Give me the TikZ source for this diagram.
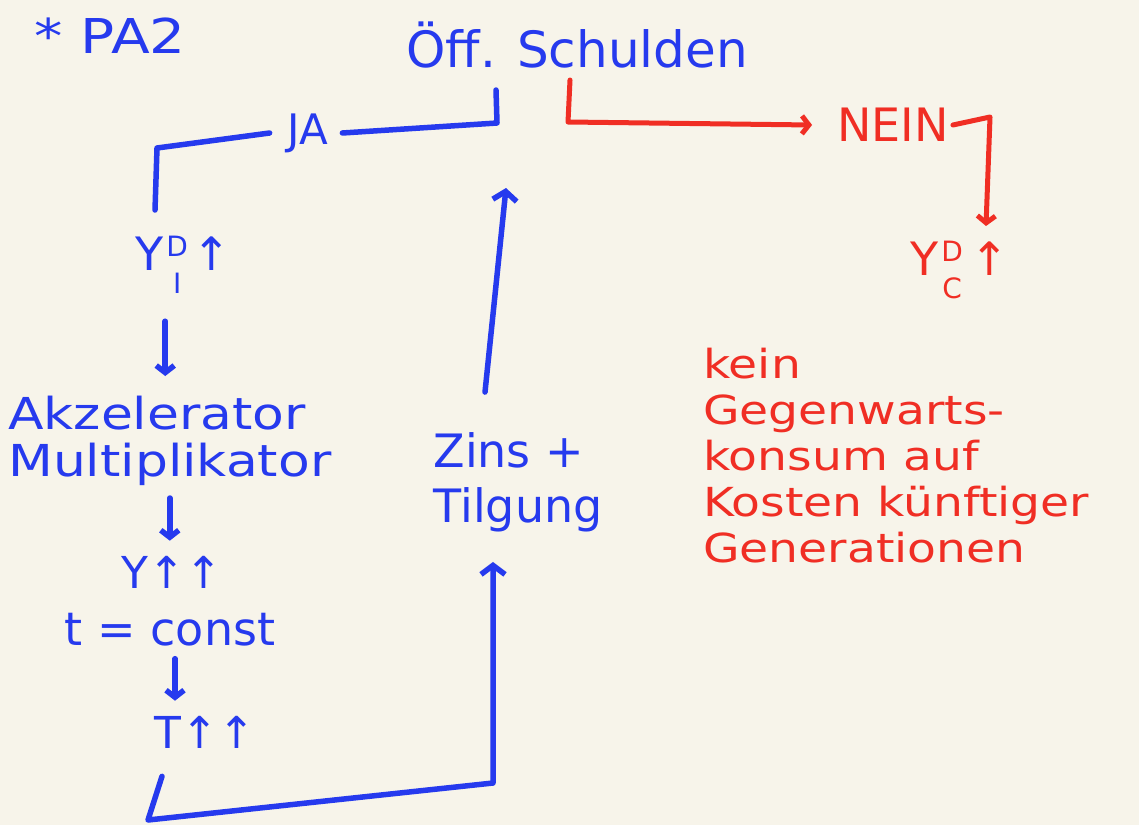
\documentclass[tikz,border=0pt]{standalone}
\usepackage{fontspec}
\setmainfont{DejaVu Sans}
\newfontfamily\wide[FakeStretch=1.18]{DejaVu Sans}
\usetikzlibrary{arrows.meta,calc}
\definecolor{bg}{HTML}{F7F4EA}
\definecolor{pen}{RGB}{38,58,238}
\definecolor{redpen}{RGB}{240,46,36}
\newcommand{\fsz}[2]{\fontsize{#1}{#2}\selectfont}
\begin{document}
\begin{tikzpicture}[x=1pt,y=-1pt,
  hand/.style={inner sep=0pt, font=\fsz{46}{46}},
  bt/.style={hand, text=pen},
  rt/.style={hand, text=redpen},
  idx/.style={font=\fsz{28}{28}},
  bline/.style={draw=pen, line width=5.5pt, line cap=round, line join=round},
  rline/.style={draw=redpen, line width=5pt, line cap=round, line join=round},
  tip/.style={-{Straight Barb[length=9pt,width=24pt]}},
  smalltip/.style={-{Straight Barb[length=7pt,width=18pt]}}]
\fill[bg] (0,0) rectangle (1139,825);
\useasboundingbox (0,0) rectangle (1139,825);

% texts
\node[bt, font=\wide\fsz{48}{48}] (pa) at (110,36) {* PA2};
\node[bt, font=\fsz{50}{50}] (sch) at (577,45) {Öff. Schulden};
\node[bt, font=\fsz{42}{42}] (ja) at (308,133) {JA};
\node[rt, font=\fsz{46}{46}] (nein) at (893,125) {NEIN};

% Y^D_I up
\node[bt, anchor=base] (yi) at (150,270) {Y};
\node[bt, idx, anchor=base west] (yid) at ($(yi.base east)+(2,-14)$) {D};
\node[bt, idx, anchor=base] (yii) at ($(yid.base)+(0,37)$) {I};
\node[bt, anchor=base west] (yiu) at ($(yi.base east)+(28,0)$) {↑};

\node[bt, align=left, anchor=west, font=\wide\fsz{44}{47}] (akz) at (8,441) {Akzelerator\\Multiplikator};
\node[bt, font=\fsz{44}{44}] (yy) at (172,572) {Y↑↑};
\node[bt] (tc) at (170,630) {t = const};
\node[bt, font=\fsz{44}{44}] (tt) at (205,732) {T↑↑};
\node[bt, align=left, font=\fsz{46}{55}] (zins) at (518,482) {Zins +\\Tilgung};

% Y^D_C up
\node[rt, anchor=base] (yc) at (925,275) {Y};
\node[rt, idx, anchor=base west] (ycd) at ($(yc.base east)+(2,-14)$) {D};
\node[rt, idx, anchor=base] (ycc) at ($(ycd.base)+(0,37)$) {C};
\node[rt, anchor=base west] (ycu) at ($(yc.base east)+(31,0)$) {↑};

\node[rt, align=left, anchor=north west, font=\wide\fsz{40}{46}] (txt) at (703,348)
  {kein\\Gegenwarts-\\konsum auf\\Kosten künftiger\\Generationen};

% blue JA branch
\coordinate (t1) at (496,90);
\coordinate (t2) at (497,123);
\coordinate (j1) at (157,148);
\coordinate (j2) at (155,210);
\draw[bline] (t1) -- (t2) -- ([xshift=14pt]ja.east);
\draw[bline] ([xshift=-18pt]ja.west) -- (j1) -- (j2);

% small down arrows
\draw[bline, smalltip] ($(yii.south)+(-12,28)$) -- ($(yii.south |- akz.north)+(-12,-20)$);
\draw[bline, smalltip] ($(akz.south)+(0,12)$) -- ($(akz.south |- yy.north)+(0,-15)$);
\draw[bline, smalltip] ($(tc.south)+(5,12)$) -- ($(tc.south |- tt.north)+(5,-15)$);

% bottom loop to Zins + Tilgung
\coordinate (b1) at (148,820);
\coordinate (b2) at (493,783);
\draw[bline, tip] ($(tt.south)+(-43,28)$) -- (b1) -- (b2) -- ($(b2 |- zins.south)+(0,30)$);

% Zins + Tilgung up to öff. Schulden
\coordinate (a1) at (506,188);
\draw[bline, tip] ($(zins.north)+(-33,-40)$) -- (a1);

% red NEIN branch
\coordinate (r1) at (570,80);
\coordinate (r2) at (568,122);
\draw[rline, smalltip] (r1) -- (r2) -- ([xshift=-25pt]nein.west);
\coordinate (r3) at (990,117);
\coordinate (r4) at (986,226);
\draw[rline, smalltip] ([xshift=4pt]nein.east) -- (r3) -- (r4);
\end{tikzpicture}
\end{document}
